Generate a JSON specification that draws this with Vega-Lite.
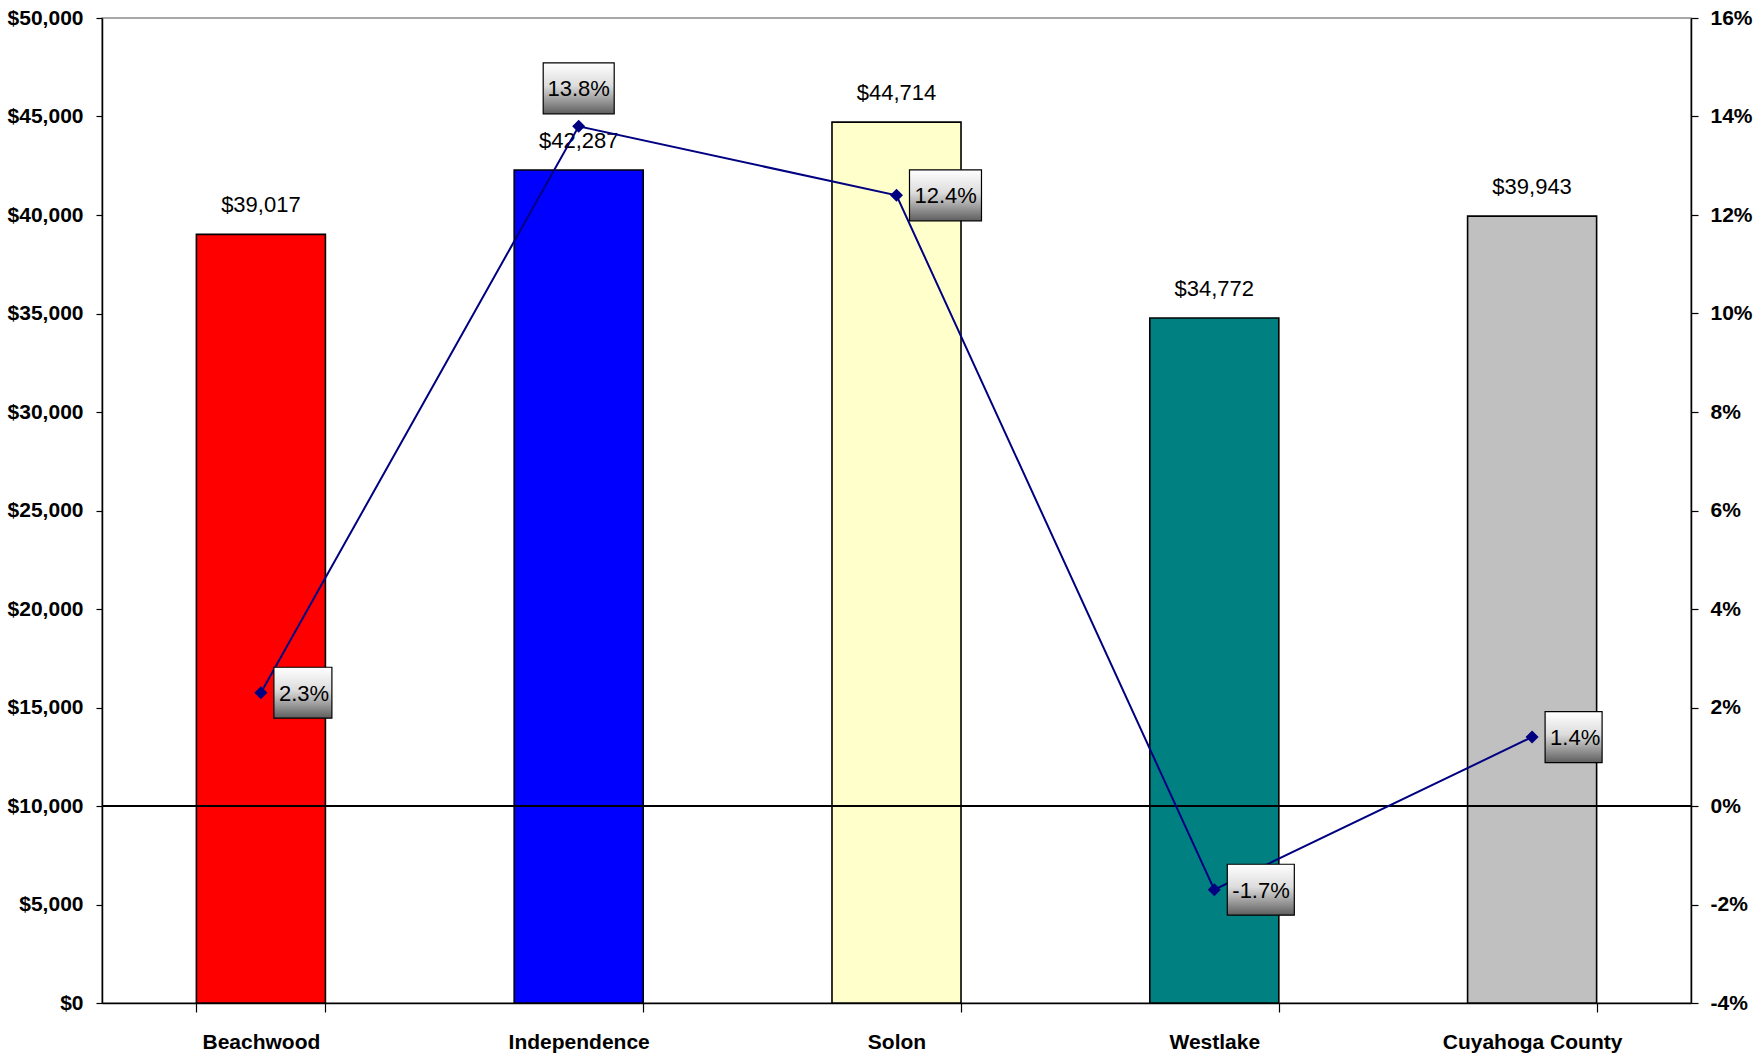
{
  "$schema": "https://vega.github.io/schema/vega-lite/v6.json",
  "width": 1589,
  "height": 985,
  "autosize": {"type": "none"},
  "padding": {"left": 102, "top": 18, "right": 64, "bottom": 54},
  "background": "white",
  "config": {
    "font": "Liberation Sans",
    "locale": {"number": {"decimal": ".", "thousands": ",", "grouping": [3], "currency": ["$", ""], "minus": "-", "percent": "%"}},
    "view": {"stroke": "#8c8c8c", "strokeWidth": 1.5},
    "axis": {"grid": false, "labelColor": "black", "labelFont": "Liberation Sans", "labelFontWeight": "bold", "labelFontSize": 21, "domainColor": "black", "tickColor": "black", "domainWidth": 1.5, "tickWidth": 1.2, "title": null}
  },
  "data": {
    "values": [
      {"city": "Beachwood", "income": 39017, "pct": 0.023},
      {"city": "Independence", "income": 42287, "pct": 0.138},
      {"city": "Solon", "income": 44714, "pct": 0.124},
      {"city": "Westlake", "income": 34772, "pct": -0.017},
      {"city": "Cuyahoga County", "income": 39943, "pct": 0.014}
    ]
  },
  "encoding": {
    "x": {
      "field": "city", "type": "nominal", "sort": null,
      "scale": {"paddingInner": 0.594, "paddingOuter": 0.297},
      "axis": {"labelAngle": 0, "tickBand": "extent", "tickSize": 9, "labelPadding": 19, "labelBaseline": "top"}
    }
  },
  "layer": [
    {
      "encoding": {
        "y": {"field": "income", "type": "quantitative", "scale": {"domain": [0, 50000], "nice": false},
          "axis": {"orient": "left", "values": [0, 5000, 10000, 15000, 20000, 25000, 30000, 35000, 40000, 45000, 50000], "format": "$,d", "tickSize": 6, "labelPadding": 13}}
      },
      "layer": [
        {
          "mark": {"type": "bar", "stroke": "black", "strokeWidth": 1.6},
          "encoding": {
            "fill": {"field": "city", "type": "nominal", "sort": null, "legend": null,
              "scale": {"domain": ["Beachwood", "Independence", "Solon", "Westlake", "Cuyahoga County"], "range": ["#ff0000", "#0000ff", "#ffffcc", "#008080", "#c0c0c0"]}}
          }
        },
        {
          "mark": {"type": "text", "fontSize": 22, "color": "black", "baseline": "alphabetic", "dy": -22, "font": "Liberation Sans"},
          "encoding": {"text": {"field": "income", "type": "quantitative", "format": "$,.0f"}}
        }
      ]
    },
    {
      "encoding": {
        "y": {"field": "pct", "type": "quantitative", "scale": {"domain": [-0.04, 0.16], "nice": false},
          "axis": {"orient": "right", "values": [-0.04, -0.02, 0, 0.02, 0.04, 0.06, 0.08, 0.1, 0.12, 0.14, 0.16], "format": ".0%", "tickSize": 7, "labelPadding": 12}}
      },
      "layer": [
        {
          "data": {"values": [{"zero": 0}]},
          "mark": {"type": "rule", "color": "black", "strokeWidth": 1.8},
          "encoding": {"y": {"field": "zero", "type": "quantitative"}, "x": null}
        },
        {
          "mark": {"type": "line", "color": "#000080", "strokeWidth": 2}
        },
        {
          "mark": {"type": "point", "shape": "diamond", "filled": true, "color": "#000080", "size": 170, "opacity": 1}
        },
        {
          "mark": {"type": "point", "filled": true, "size": 5041, "opacity": 1, "stroke": "black", "strokeWidth": 1.2,
            "fill": {"gradient": "linear", "x1": 0, "y1": 0, "x2": 0, "y2": 1, "stops": [{"offset": 0, "color": "#ffffff"}, {"offset": 0.45, "color": "#dcdcdc"}, {"offset": 1, "color": "#5e5e5e"}]}},
          "encoding": {
            "shape": {"field": "city", "type": "nominal", "sort": null, "legend": null,
              "scale": {"domain": ["Beachwood", "Independence", "Solon", "Westlake", "Cuyahoga County"],
                "range": [
                  "M0.366,-0.718L2.0,-0.718L2.0,0.718L0.366,0.718Z",
                  "M-1,-1.789L1,-1.789L1,-0.352L-1,-0.352Z",
                  "M0.366,-0.718L2.394,-0.718L2.394,0.718L0.366,0.718Z",
                  "M0.366,-0.718L2.254,-0.718L2.254,0.718L0.366,0.718Z",
                  "M0.366,-0.718L1.972,-0.718L1.972,0.718L0.366,0.718Z"
                ]}}
          }
        },
        {
          "transform": [{"filter": "datum.city !== 'Independence'"}],
          "mark": {"type": "text", "fontSize": 22, "color": "black", "align": "left", "baseline": "middle", "dx": 18, "dy": 1, "font": "Liberation Sans"},
          "encoding": {"text": {"field": "pct", "type": "quantitative", "format": ".1%"}}
        },
        {
          "transform": [{"filter": "datum.city === 'Independence'"}],
          "mark": {"type": "text", "fontSize": 22, "color": "black", "align": "center", "baseline": "middle", "dy": -37, "font": "Liberation Sans"},
          "encoding": {"text": {"field": "pct", "type": "quantitative", "format": ".1%"}}
        }
      ]
    }
  ],
  "resolve": {"scale": {"y": "independent"}}
}
